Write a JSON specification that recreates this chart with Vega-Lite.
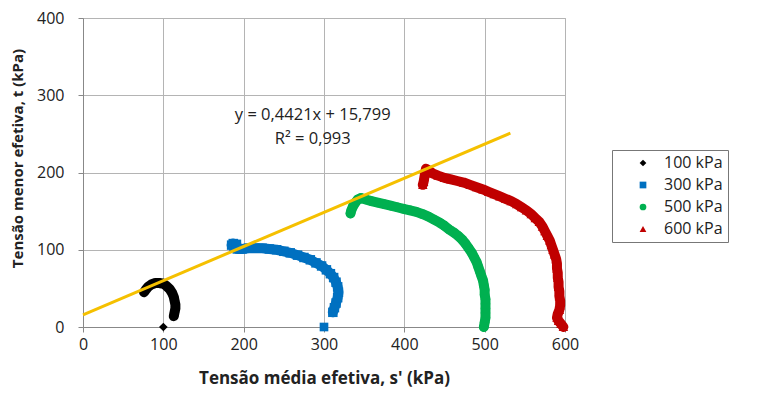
{
  "$schema": "https://vega.github.io/schema/vega-lite/v6.json",
  "width": 482,
  "height": 309,
  "autosize": {"type": "none"},
  "padding": {"left": 83, "top": 18, "right": 218, "bottom": 67},
  "background": "white",
  "config": {
    "font": "Open Sans",
    "view": {"stroke": "#b4b4b4"},
    "axis": {
      "labelFont": "Open Sans", "labelFontSize": 16, "labelColor": "#222", "labelFlush": false, "labelOverlap": false,
      "titleFont": "Open Sans", "titleFontWeight": "bold", "titleColor": "#222",
      "gridColor": "#b4b4b4", "domainColor": "#888", "tickColor": "#888", "tickSize": 5
    },
    "legend": {"labelFont": "Open Sans", "labelFontSize": 16, "labelColor": "#222"}
  },
  "datasets": {
    "starts": [
      {"s": 100, "t": 0, "serie": "100 kPa"},
      {"s": 300, "t": 0, "serie": "300 kPa"}
    ],
    "paths": [
      {"s": 113, "t": 14, "serie": "100 kPa"}, {"s": 114, "t": 19, "serie": "100 kPa"}, {"s": 115, "t": 24, "serie": "100 kPa"},
      {"s": 115, "t": 29, "serie": "100 kPa"}, {"s": 114, "t": 34, "serie": "100 kPa"}, {"s": 113, "t": 39, "serie": "100 kPa"},
      {"s": 111, "t": 44, "serie": "100 kPa"}, {"s": 108, "t": 49, "serie": "100 kPa"}, {"s": 104, "t": 53, "serie": "100 kPa"},
      {"s": 100, "t": 56, "serie": "100 kPa"}, {"s": 95, "t": 57, "serie": "100 kPa"}, {"s": 90, "t": 57, "serie": "100 kPa"},
      {"s": 85, "t": 55, "serie": "100 kPa"}, {"s": 81, "t": 52, "serie": "100 kPa"}, {"s": 78, "t": 48, "serie": "100 kPa"},
      {"s": 76, "t": 45, "serie": "100 kPa"},

      {"s": 311, "t": 19, "serie": "300 kPa"}, {"s": 313, "t": 25, "serie": "300 kPa"}, {"s": 315, "t": 31, "serie": "300 kPa"},
      {"s": 317, "t": 38, "serie": "300 kPa"}, {"s": 318, "t": 45, "serie": "300 kPa"}, {"s": 317, "t": 52, "serie": "300 kPa"},
      {"s": 315, "t": 58, "serie": "300 kPa"}, {"s": 312, "t": 64, "serie": "300 kPa"}, {"s": 308, "t": 69, "serie": "300 kPa"},
      {"s": 303, "t": 74, "serie": "300 kPa"}, {"s": 297, "t": 79, "serie": "300 kPa"}, {"s": 290, "t": 83, "serie": "300 kPa"},
      {"s": 283, "t": 87, "serie": "300 kPa"}, {"s": 275, "t": 90, "serie": "300 kPa"}, {"s": 267, "t": 93, "serie": "300 kPa"},
      {"s": 258, "t": 96, "serie": "300 kPa"}, {"s": 250, "t": 98, "serie": "300 kPa"}, {"s": 241, "t": 100, "serie": "300 kPa"},
      {"s": 232, "t": 101, "serie": "300 kPa"}, {"s": 223, "t": 102, "serie": "300 kPa"}, {"s": 214, "t": 102, "serie": "300 kPa"},
      {"s": 206, "t": 102, "serie": "300 kPa"}, {"s": 198, "t": 101, "serie": "300 kPa"}, {"s": 192, "t": 101, "serie": "300 kPa"},
      {"s": 188, "t": 104, "serie": "300 kPa"}, {"s": 185, "t": 106, "serie": "300 kPa"}, {"s": 187, "t": 108, "serie": "300 kPa"},
      {"s": 191, "t": 107, "serie": "300 kPa"},

      {"s": 499, "t": 0, "serie": "500 kPa"}, {"s": 500, "t": 6, "serie": "500 kPa"}, {"s": 501, "t": 12, "serie": "500 kPa"},
      {"s": 501, "t": 18, "serie": "500 kPa"}, {"s": 501, "t": 24, "serie": "500 kPa"}, {"s": 501, "t": 30, "serie": "500 kPa"},
      {"s": 501, "t": 36, "serie": "500 kPa"}, {"s": 500, "t": 42, "serie": "500 kPa"}, {"s": 500, "t": 48, "serie": "500 kPa"},
      {"s": 499, "t": 54, "serie": "500 kPa"}, {"s": 498, "t": 60, "serie": "500 kPa"}, {"s": 496, "t": 66, "serie": "500 kPa"},
      {"s": 494, "t": 72, "serie": "500 kPa"}, {"s": 492, "t": 78, "serie": "500 kPa"}, {"s": 490, "t": 84, "serie": "500 kPa"},
      {"s": 487, "t": 90, "serie": "500 kPa"}, {"s": 484, "t": 96, "serie": "500 kPa"}, {"s": 480, "t": 102, "serie": "500 kPa"},
      {"s": 476, "t": 108, "serie": "500 kPa"}, {"s": 472, "t": 113, "serie": "500 kPa"}, {"s": 467, "t": 118, "serie": "500 kPa"},
      {"s": 462, "t": 122, "serie": "500 kPa"}, {"s": 456, "t": 126, "serie": "500 kPa"}, {"s": 450, "t": 131, "serie": "500 kPa"},
      {"s": 444, "t": 135, "serie": "500 kPa"}, {"s": 437, "t": 139, "serie": "500 kPa"}, {"s": 430, "t": 143, "serie": "500 kPa"},
      {"s": 423, "t": 146, "serie": "500 kPa"}, {"s": 415, "t": 149, "serie": "500 kPa"}, {"s": 407, "t": 151, "serie": "500 kPa"},
      {"s": 399, "t": 153, "serie": "500 kPa"}, {"s": 391, "t": 155, "serie": "500 kPa"}, {"s": 383, "t": 157, "serie": "500 kPa"},
      {"s": 375, "t": 159, "serie": "500 kPa"}, {"s": 367, "t": 161, "serie": "500 kPa"}, {"s": 359, "t": 163, "serie": "500 kPa"},
      {"s": 352, "t": 165, "serie": "500 kPa"}, {"s": 346, "t": 167, "serie": "500 kPa"}, {"s": 342, "t": 165, "serie": "500 kPa"},
      {"s": 339, "t": 161, "serie": "500 kPa"}, {"s": 336, "t": 156, "serie": "500 kPa"}, {"s": 334, "t": 151, "serie": "500 kPa"},
      {"s": 333, "t": 147, "serie": "500 kPa"},

      {"s": 598, "t": 0, "serie": "600 kPa"}, {"s": 595, "t": 4, "serie": "600 kPa"}, {"s": 592, "t": 8, "serie": "600 kPa"},
      {"s": 590, "t": 12, "serie": "600 kPa"}, {"s": 591, "t": 17, "serie": "600 kPa"}, {"s": 593, "t": 22, "serie": "600 kPa"},
      {"s": 594, "t": 28, "serie": "600 kPa"}, {"s": 594, "t": 34, "serie": "600 kPa"}, {"s": 593, "t": 40, "serie": "600 kPa"},
      {"s": 593, "t": 46, "serie": "600 kPa"}, {"s": 592, "t": 52, "serie": "600 kPa"}, {"s": 592, "t": 58, "serie": "600 kPa"},
      {"s": 591, "t": 64, "serie": "600 kPa"}, {"s": 591, "t": 70, "serie": "600 kPa"}, {"s": 590, "t": 76, "serie": "600 kPa"},
      {"s": 590, "t": 82, "serie": "600 kPa"}, {"s": 589, "t": 88, "serie": "600 kPa"}, {"s": 587, "t": 94, "serie": "600 kPa"},
      {"s": 585, "t": 100, "serie": "600 kPa"}, {"s": 583, "t": 106, "serie": "600 kPa"}, {"s": 581, "t": 112, "serie": "600 kPa"},
      {"s": 578, "t": 118, "serie": "600 kPa"}, {"s": 575, "t": 124, "serie": "600 kPa"}, {"s": 572, "t": 130, "serie": "600 kPa"},
      {"s": 568, "t": 136, "serie": "600 kPa"}, {"s": 563, "t": 141, "serie": "600 kPa"}, {"s": 558, "t": 146, "serie": "600 kPa"},
      {"s": 552, "t": 151, "serie": "600 kPa"}, {"s": 546, "t": 155, "serie": "600 kPa"}, {"s": 540, "t": 159, "serie": "600 kPa"},
      {"s": 533, "t": 163, "serie": "600 kPa"}, {"s": 526, "t": 166, "serie": "600 kPa"}, {"s": 519, "t": 169, "serie": "600 kPa"},
      {"s": 512, "t": 172, "serie": "600 kPa"}, {"s": 505, "t": 175, "serie": "600 kPa"}, {"s": 498, "t": 178, "serie": "600 kPa"},
      {"s": 490, "t": 181, "serie": "600 kPa"}, {"s": 482, "t": 184, "serie": "600 kPa"}, {"s": 474, "t": 187, "serie": "600 kPa"},
      {"s": 466, "t": 189, "serie": "600 kPa"}, {"s": 458, "t": 191, "serie": "600 kPa"}, {"s": 450, "t": 193, "serie": "600 kPa"},
      {"s": 442, "t": 196, "serie": "600 kPa"}, {"s": 435, "t": 199, "serie": "600 kPa"}, {"s": 430, "t": 203, "serie": "600 kPa"},
      {"s": 427, "t": 205, "serie": "600 kPa"}, {"s": 426, "t": 200, "serie": "600 kPa"}, {"s": 425, "t": 194, "serie": "600 kPa"},
      {"s": 424, "t": 188, "serie": "600 kPa"}, {"s": 423, "t": 184, "serie": "600 kPa"}
    ],
    "fit": [
      {"s": 0, "t": 15.8},
      {"s": 532, "t": 251.0}
    ],
    "notes": [
      {"s": 286, "t": 274, "label": "y = 0,4421x + 15,799"},
      {"s": 286, "t": 244, "label": "R² = 0,993"}
    ]
  },
  "encoding": {
    "x": {
      "field": "s", "type": "quantitative",
      "scale": {"domain": [0, 600], "nice": false},
      "axis": {"values": [0, 100, 200, 300, 400, 500, 600], "title": "Tensão média efetiva, s' (kPa)", "titleFontSize": 17, "labelPadding": 4, "titlePadding": 18}
    },
    "y": {
      "field": "t", "type": "quantitative",
      "scale": {"domain": [0, 400], "nice": false},
      "axis": {"values": [0, 100, 200, 300, 400], "title": "Tensão menor efetiva, t (kPa)", "titleFontSize": 15, "titleY": 140, "labelPadding": 14, "titlePadding": 11}
    }
  },
  "layer": [
    {
      "data": {"name": "paths"},
      "transform": [{"filter": "datum.serie == '100 kPa'"}],
      "mark": {"type": "line", "color": "#000000", "strokeWidth": 10, "strokeCap": "round", "strokeJoin": "round"},
      "encoding": {"order": {"value": null}}
    },
    {
      "data": {"name": "paths"},
      "transform": [{"filter": "datum.serie == '300 kPa'"}],
      "mark": {"type": "line", "color": "#0070C0", "strokeWidth": 10, "strokeCap": "round", "strokeJoin": "round"},
      "encoding": {"order": {"value": null}}
    },
    {
      "data": {"name": "paths"},
      "transform": [{"filter": "datum.serie == '500 kPa'"}],
      "mark": {"type": "line", "color": "#00B050", "strokeWidth": 10, "strokeCap": "round", "strokeJoin": "round"},
      "encoding": {"order": {"value": null}}
    },
    {
      "data": {"name": "paths"},
      "transform": [{"filter": "datum.serie == '600 kPa'"}],
      "mark": {"type": "line", "color": "#C00000", "strokeWidth": 10, "strokeCap": "round", "strokeJoin": "round"},
      "encoding": {"order": {"value": null}}
    },
    {
      "data": {"name": "paths"},
      "mark": {"type": "point", "filled": true, "size": 90, "opacity": 1},
      "encoding": {
        "color": {
          "field": "serie", "type": "nominal",
          "scale": {"domain": ["100 kPa", "300 kPa", "500 kPa", "600 kPa"], "range": ["#000000", "#0070C0", "#00B050", "#C00000"]},
          "legend": {
            "title": null, "orient": "none", "legendX": 529, "legendY": 132,
            "strokeColor": "#777", "padding": 5, "symbolSize": 45, "rowPadding": 6,
            "labelOffset": 13, "symbolOffset": 18, "labelLimit": 200
          }
        },
        "shape": {
          "field": "serie", "type": "nominal",
          "scale": {"domain": ["100 kPa", "300 kPa", "500 kPa", "600 kPa"], "range": ["diamond", "square", "circle", "triangle-up"]}
        }
      }
    },
    {
      "data": {"name": "starts"},
      "mark": {"type": "point", "filled": true, "size": 75, "opacity": 1},
      "encoding": {
        "color": {"field": "serie", "type": "nominal"},
        "shape": {"field": "serie", "type": "nominal"}
      }
    },
    {
      "data": {"name": "fit"},
      "mark": {"type": "line", "color": "#F5C000", "strokeWidth": 3},
      "encoding": {}
    },
    {
      "data": {"name": "notes"},
      "mark": {"type": "text", "font": "Open Sans", "fontSize": 16.5, "color": "#222", "align": "center", "baseline": "middle"},
      "encoding": {"text": {"field": "label"}}
    }
  ]
}
